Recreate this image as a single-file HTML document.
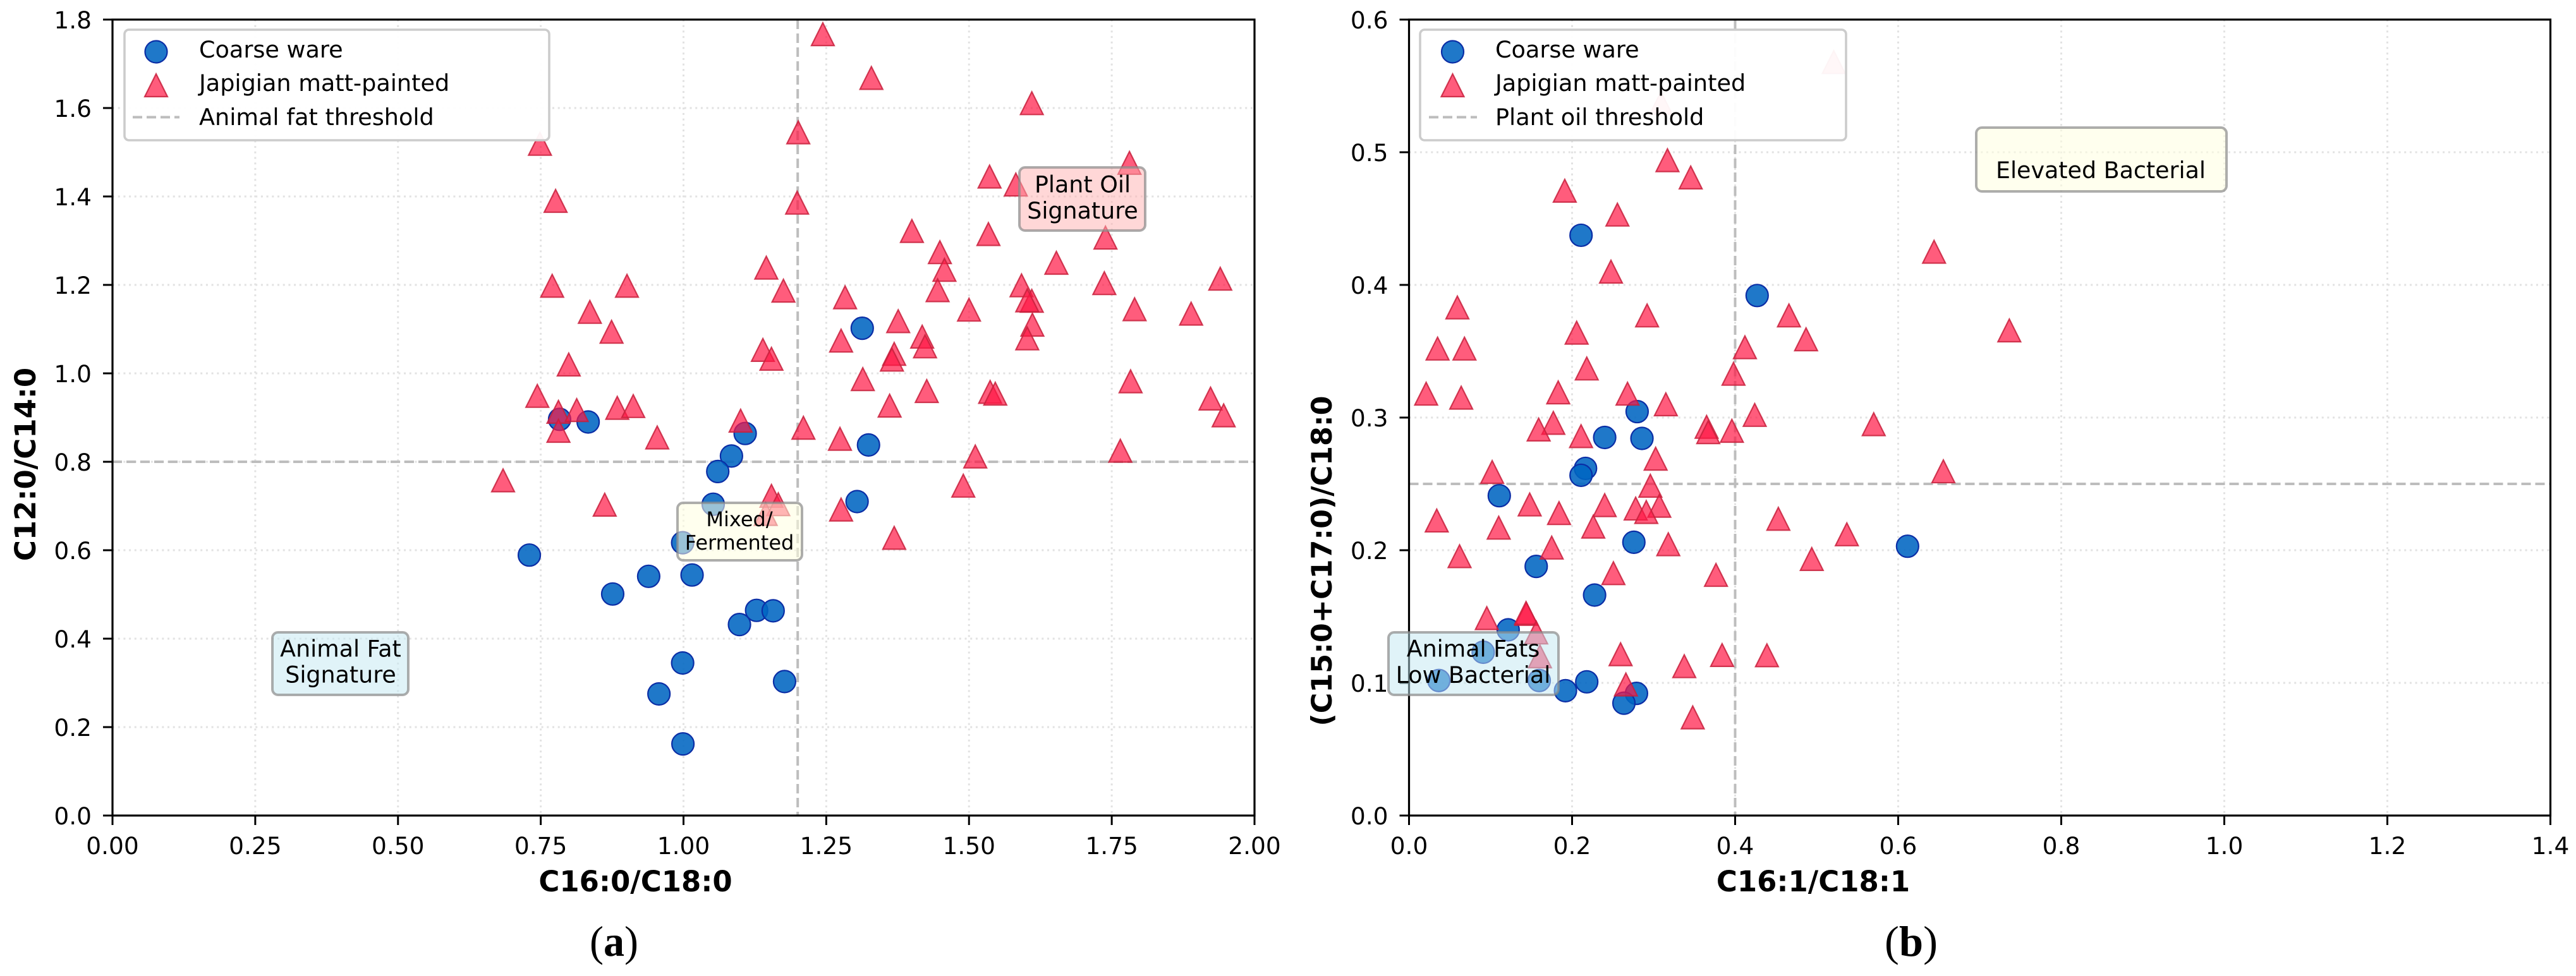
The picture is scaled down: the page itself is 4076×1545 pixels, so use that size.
<!DOCTYPE html>
<html lang="en">
<head>
<meta charset="utf-8">
<title>Fatty acid ratio scatter plots</title>
<style>
html,body{margin:0;padding:0;background:#fff;width:4076px;height:1545px;overflow:hidden}
svg{display:block}
text{font-family:"DejaVu Sans","Liberation Sans",sans-serif;fill:#000}
.tick{font-size:37.5px}
.axis-title{font-size:45px;font-weight:bold}
.legend-text{font-size:36.6px}
.note{font-size:36.4px;text-anchor:middle}
.caption{font-family:"Liberation Serif",serif;font-size:68px}
</style>
</head>
<body>
<svg xmlns="http://www.w3.org/2000/svg" width="4076" height="1545" viewBox="0 0 4076 1545">
<rect width="4076" height="1545" fill="#fff"/>

<g id="panel-a">
  <g id="a-grid"></g>
  <g id="a-thresholds"></g>
  <g id="a-marks"></g>
  <rect x="178" y="31" width="1807" height="1260" fill="none" stroke="#000" stroke-width="3.2"/>
  <g id="a-ticks"></g>
  <text class="axis-title" x="1005.5" y="1411" text-anchor="middle">C16:0/C18:0</text>
  <text class="axis-title" transform="translate(56 735) rotate(-90)" text-anchor="middle">C12:0/C14:0</text>

  <g>
    <rect x="1613" y="265" width="199" height="100" rx="9" fill="#ffb0b0" fill-opacity="0.5" stroke="#8a8a8a" stroke-opacity="0.7" stroke-width="4"/>
    <text class="note" x="1713" y="304.5">Plant Oil</text>
    <text class="note" x="1713" y="346">Signature</text>
  </g>
  <g>
    <rect x="431" y="1001" width="215" height="99" rx="9" fill="#c1e7f1" fill-opacity="0.5" stroke="#8a8a8a" stroke-opacity="0.7" stroke-width="4"/>
    <text class="note" x="539" y="1039.5">Animal Fat</text>
    <text class="note" x="539" y="1080.5">Signature</text>
  </g>
  <g>
    <rect x="1072" y="796" width="197" height="91" rx="9" fill="#ffffe0" fill-opacity="0.55" stroke="#8a8a8a" stroke-opacity="0.7" stroke-width="4"/>
    <text class="note" style="font-size:32px" x="1170" y="833">Mixed/</text>
    <text class="note" style="font-size:32px" x="1170" y="870">Fermented</text>
  </g>

  <g>
    <rect x="197" y="47" width="672" height="175" rx="7" fill="#fff" fill-opacity="0.95" stroke="#ccc" stroke-width="3.6"/>
    <g>
      <circle cx="247" cy="82" r="17.5" fill="#0065C2" fill-opacity="0.88" stroke="#0B2EA6" stroke-width="2.2"/>
      <text class="legend-text" x="315" y="91">Coarse ware</text>
    </g>
    <g>
      <polygon points="247,117 265,153 229,153" fill="#FF1744" fill-opacity="0.7" stroke="#C8203C" stroke-opacity="0.85" stroke-width="2.2"/>
      <text class="legend-text" x="315" y="144">Japigian matt-painted</text>
    </g>
    <g>
      <line x1="210" y1="185.5" x2="284" y2="185.5" stroke="#bdbdbd" stroke-width="4" stroke-dasharray="15 7"/>
      <text class="legend-text" x="315" y="198">Animal fat threshold</text>
    </g>
  </g>
  <text class="caption" x="933" y="1513" textLength="77" lengthAdjust="spacingAndGlyphs">(<tspan font-weight="bold">a</tspan>)</text>
</g>

<g id="panel-b">
  <g id="b-grid"></g>
  <g id="b-thresholds"></g>
  <g id="b-marks"></g>
  <rect x="2229.5" y="31" width="1806" height="1260" fill="none" stroke="#000" stroke-width="3.2"/>
  <g id="b-ticks"></g>
  <text class="axis-title" x="2869" y="1411" text-anchor="middle">C16:1/C18:1</text>
  <text class="axis-title" transform="translate(2107 888) rotate(-90)" text-anchor="middle" style="font-size:44.4px">(C15:0+C17:0)/C18:0</text>

  <g>
    <rect x="2197" y="1001" width="269" height="99" rx="9" fill="#c1e7f1" fill-opacity="0.5" stroke="#8a8a8a" stroke-opacity="0.7" stroke-width="4"/>
    <text class="note" x="2331" y="1039.5">Animal Fats</text>
    <text class="note" x="2331" y="1081">Low Bacterial</text>
  </g>
  <g>
    <rect x="3127" y="202" width="396" height="101" rx="9" fill="#ffffe0" fill-opacity="0.55" stroke="#8a8a8a" stroke-opacity="0.7" stroke-width="4"/>
    <text class="note" x="3324" y="282">Elevated Bacterial</text>
  </g>

  <g>
    <rect x="2247" y="47" width="674" height="175" rx="7" fill="#fff" fill-opacity="0.95" stroke="#ccc" stroke-width="3.6"/>
    <g>
      <circle cx="2298.5" cy="82" r="17.5" fill="#0065C2" fill-opacity="0.88" stroke="#0B2EA6" stroke-width="2.2"/>
      <text class="legend-text" x="2366" y="91">Coarse ware</text>
    </g>
    <g>
      <polygon points="2298.5,117 2316.5,153 2280.5,153" fill="#FF1744" fill-opacity="0.7" stroke="#C8203C" stroke-opacity="0.85" stroke-width="2.2"/>
      <text class="legend-text" x="2366" y="144">Japigian matt-painted</text>
    </g>
    <g>
      <line x1="2261" y1="185.5" x2="2337" y2="185.5" stroke="#bdbdbd" stroke-width="4" stroke-dasharray="15 7"/>
      <text class="legend-text" x="2366" y="198">Plant oil threshold</text>
    </g>
  </g>
  <text class="caption" x="2982" y="1513" textLength="84" lengthAdjust="spacingAndGlyphs">(<tspan font-weight="bold">b</tspan>)</text>
</g>
</svg>

<script>
/* Panel (a) data */
const xTicksA = ["0.00","0.25","0.50","0.75","1.00","1.25","1.50","1.75","2.00"];
const yTicksA = ["0.0","0.2","0.4","0.6","0.8","1.0","1.2","1.4","1.6","1.8"];
const thresholdXA = [1.2];
const thresholdYA = [0.8];
const coarseXA = [0.783,0.833,1.313,1.108,1.324,1.084,1.060,1.052,0.9985,1.015,0.939,1.128,1.157,1.098,0.9985,0.957,1.177,0.999,1.304,0.730,0.876];
const coarseYA = [0.896,0.890,1.102,0.864,0.838,0.813,0.778,0.704,0.617,0.544,0.541,0.464,0.463,0.432,0.345,0.275,0.303,0.162,0.710,0.589,0.501];
const japigianXA = [0.7486,0.776,0.770,0.836,0.874,0.799,0.744,0.781,0.813,0.884,0.912,0.901,0.781,1.244,1.329,1.610,1.201,1.199,1.536,1.582,1.781,1.739,1.534,1.400,1.449,1.457,1.145,1.175,1.653,1.737,1.940,1.592,1.610,1.602,1.445,1.283,1.500,1.790,1.889,1.611,1.602,1.376,1.418,1.423,1.276,1.369,1.365,1.139,1.154,1.314,1.426,1.537,1.546,1.361,1.783,1.923,1.946,1.100,1.210,0.954,1.274,1.511,1.765,1.490,1.154,1.166,1.144,1.276,1.369,0.684,0.862];
const japigianYA = [1.519,1.390,1.198,1.139,1.094,1.020,0.949,0.913,0.917,0.922,0.926,1.198,0.870,1.767,1.668,1.611,1.545,1.386,1.445,1.427,1.476,1.307,1.315,1.322,1.274,1.234,1.239,1.187,1.250,1.204,1.214,1.199,1.164,1.165,1.188,1.172,1.144,1.145,1.135,1.110,1.079,1.118,1.083,1.061,1.074,1.044,1.031,1.053,1.033,0.987,0.960,0.958,0.954,0.927,0.982,0.943,0.905,0.893,0.877,0.855,0.852,0.812,0.825,0.746,0.723,0.704,0.682,0.692,0.628,0.758,0.703];

/* Panel (b) data */
const xTicksB = ["0.0","0.2","0.4","0.6","0.8","1.0","1.2","1.4"];
const yTicksB = ["0.0","0.1","0.2","0.3","0.4","0.5","0.6"];
const thresholdXB = [0.4];
const thresholdYB = [0.25];
const coarseXB = [0.211,0.427,0.2798,0.240,0.2857,0.2165,0.211,0.1107,0.2758,0.6115,0.156,0.2276,0.1216,0.0910,0.0366,0.1597,0.218,0.1919,0.279,0.2636];
const coarseYB = [0.4374,0.392,0.3045,0.285,0.2843,0.2617,0.2565,0.2411,0.206,0.203,0.1878,0.1662,0.140,0.1231,0.1018,0.1018,0.1008,0.0941,0.0921,0.0847];
const japigianXB = [0.521,0.309,0.317,0.3455,0.191,0.2556,0.2477,0.0593,0.292,0.2056,0.466,0.487,0.035,0.068,0.412,0.218,0.398,0.021,0.064,0.183,0.268,0.315,0.424,0.570,0.177,0.159,0.365,0.367,0.396,0.211,0.3025,0.102,0.296,0.307,0.240,0.148,0.184,0.278,0.291,0.034,0.110,0.226,0.453,0.537,0.318,0.175,0.062,0.494,0.2507,0.3765,0.0954,0.144,0.1435,0.156,0.1606,0.2595,0.384,0.439,0.3376,0.266,0.348,0.6554,0.644,0.7363];
const japigianYB = [0.568,0.537,0.494,0.481,0.471,0.453,0.410,0.383,0.377,0.364,0.377,0.359,0.352,0.352,0.353,0.337,0.333,0.318,0.315,0.319,0.318,0.310,0.302,0.295,0.296,0.291,0.293,0.289,0.290,0.286,0.269,0.259,0.2486,0.2335,0.234,0.2345,0.228,0.2314,0.2288,0.2224,0.217,0.2178,0.2237,0.212,0.2045,0.202,0.1955,0.1934,0.1827,0.1814,0.1488,0.152,0.1527,0.138,0.120,0.1216,0.121,0.1208,0.1126,0.0988,0.074,0.2595,0.425,0.3657];

const SVG_NS = "http://www.w3.org/2000/svg";

function make(tag, attrs, parent) {
  const el = document.createElementNS(SVG_NS, tag);
  for (const key in attrs) el.setAttribute(key, attrs[key]);
  parent.appendChild(el);
  return el;
}

function linearScale(domainMax, rangeStart, rangeEnd) {
  return function (v) { return rangeStart + (v / domainMax) * (rangeEnd - rangeStart); };
}

function drawPanel(prefix, box, xTicks, yTicks, xLimit, yLimit, threshX, threshY, coarseX, coarseY, japX, japY) {
  const sx = linearScale(xLimit, box.left, box.right);
  const sy = linearScale(yLimit, box.bottom, box.top);
  const grid = document.getElementById(prefix + "-grid");
  const lines = document.getElementById(prefix + "-thresholds");
  const marks = document.getElementById(prefix + "-marks");
  const ticks = document.getElementById(prefix + "-ticks");

  xTicks.forEach(function (label) {
    const x = sx(parseFloat(label));
    const g = make("line", { x1: x, y1: box.top, x2: x, y2: box.bottom, stroke: "#e2e2e2", "stroke-width": 3, "stroke-dasharray": "3 5.7" }, grid);
    
    
    const t = make("line", { x1: x, y1: box.bottom, x2: x, y2: box.bottom + 15, stroke: "#000", "stroke-width": 3 }, ticks);
    
    
    const l = make("text", { x: x, y: 1352, "text-anchor": "middle", class: "tick" }, ticks);
    l.textContent = label;
    
    
  });

  yTicks.forEach(function (label) {
    const y = sy(parseFloat(label));
    const g = make("line", { x1: box.left, y1: y, x2: box.right, y2: y, stroke: "#e2e2e2", "stroke-width": 3, "stroke-dasharray": "3 5.7" }, grid);
    
    
    const t = make("line", { x1: box.left - 15, y1: y, x2: box.left, y2: y, stroke: "#000", "stroke-width": 3 }, ticks);
    
    
    const l = make("text", { x: box.left - 33, y: y + 13.8, "text-anchor": "end", class: "tick" }, ticks);
    l.textContent = label;
    
    
  });

  threshX.forEach(function (v) {
    const x = sx(v);
    const el = make("line", { x1: x, y1: box.top, x2: x, y2: box.bottom, stroke: "#bdbdbd", "stroke-width": 4, "stroke-dasharray": "15 7" }, lines);
    
    
  });
  threshY.forEach(function (v) {
    const y = sy(v);
    const el = make("line", { x1: box.left, y1: y, x2: box.right, y2: y, stroke: "#bdbdbd", "stroke-width": 4, "stroke-dasharray": "15 7" }, lines);
    
    
  });

  coarseX.forEach(function (v, i) {
    const el = make("circle", { cx: sx(v), cy: sy(coarseY[i]), r: 17.5, fill: "#0065C2", "fill-opacity": 0.88, stroke: "#0B2EA6", "stroke-width": 2.2 }, marks);
    
    
  });
  japX.forEach(function (v, i) {
    const x = sx(v);
    const y = sy(japY[i]);
    const pts = [[x, y - 18], [x + 18, y + 18], [x - 18, y + 18]].map(function (p) { return p.join(","); }).join(" ");
    const el = make("polygon", { points: pts, fill: "#FF1744", "fill-opacity": 0.7, stroke: "#C8203C", "stroke-opacity": 0.85, "stroke-width": 2.2 }, marks);
    
    
  });
}

drawPanel("a", { left: 178, right: 1985, top: 31, bottom: 1291 }, xTicksA, yTicksA, 2.0, 1.8, thresholdXA, thresholdYA, coarseXA, coarseYA, japigianXA, japigianYA);
drawPanel("b", { left: 2229.5, right: 4035.5, top: 31, bottom: 1291 }, xTicksB, yTicksB, 1.4, 0.6, thresholdXB, thresholdYB, coarseXB, coarseYB, japigianXB, japigianYB);
</script>
</body>
</html>
